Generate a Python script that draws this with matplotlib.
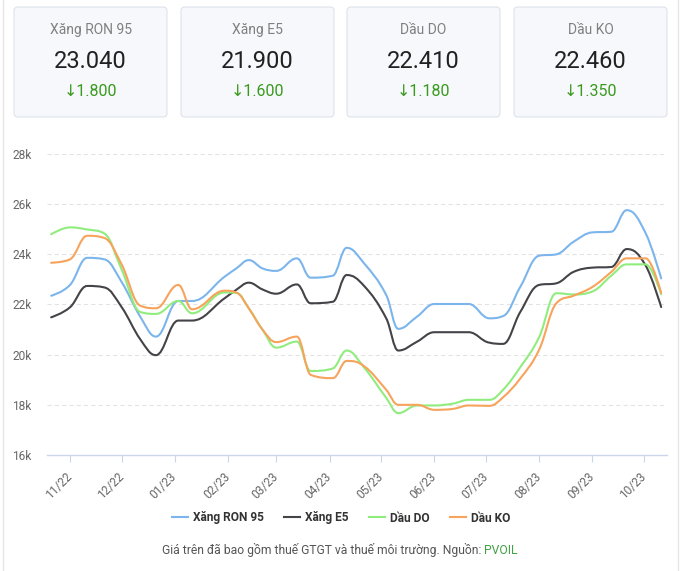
import numpy as np
import pandas as pd
import matplotlib
matplotlib.use('Agg')
import matplotlib.pyplot as plt
import matplotlib.dates as mdates
from matplotlib.path import Path
from matplotlib.patches import PathPatch, FancyBboxPatch
from matplotlib.lines import Line2D
from matplotlib.ticker import FuncFormatter

plt.rcParams['font.family'] = ['Roboto', 'DejaVu Sans']

# price adjustment dates
dates = ['2022-10-21', '2022-11-01', '2022-11-11', '2022-11-21', '2022-12-01', '2022-12-12',
         '2022-12-21', '2023-01-03', '2023-01-11', '2023-01-30', '2023-02-06', '2023-02-13',
         '2023-02-21', '2023-03-01', '2023-03-13', '2023-03-21', '2023-04-03', '2023-04-11',
         '2023-04-21', '2023-05-04', '2023-05-11', '2023-05-22', '2023-06-01', '2023-06-12',
         '2023-06-21', '2023-07-03', '2023-07-11', '2023-07-21', '2023-08-01', '2023-08-11',
         '2023-08-21', '2023-09-01', '2023-09-12', '2023-09-21', '2023-10-02', '2023-10-11']

ron95 = [22350, 22780, 23860, 23800, 22900, 21500, 20720, 22140, 22140, 23110, 23450, 23770,
         23440, 23340, 23840, 23070, 23150, 24260, 23650, 22380, 21030, 21520, 22020, 22020,
         22020, 21450, 21540, 22700, 23945, 24000, 24500, 24875, 24900, 25760, 24840, 23040]
e5 = [21490, 21890, 22740, 22680, 21900, 20600, 19980, 21360, 21360, 22250, 22600, 22870,
      22600, 22430, 22800, 22050, 22110, 23175, 22750, 21450, 20165, 20520, 20895, 20895,
      20895, 20480, 20430, 21700, 22780, 22845, 23300, 23470, 23495, 24210, 23550, 21900]
dau_do = [24800, 25075, 24990, 24830, 23400, 21700, 21625, 22140, 21650, 22480, 22460, 21850,
          21000, 20280, 20520, 19350, 19450, 20165, 19500, 18280, 17670, 17975, 17975, 18050,
          18200, 18200, 18600, 19500, 20700, 22450, 22400, 22520, 23150, 23600, 23600, 22410]
dau_ko = [23665, 23800, 24740, 24650, 23600, 21950, 21850, 22780, 21810, 22550, 22470, 21850,
          21000, 20500, 20720, 19195, 19065, 19750, 19550, 18600, 18000, 18000, 17800, 17840,
          17975, 17960, 18300, 19050, 20200, 22050, 22350, 22700, 23300, 23840, 23840, 22460]

names = ['Xăng RON 95', 'Xăng E5', 'Dầu DO', 'Dầu KO']
colors = ['#7cb5ec', '#434348', '#90ed7d', '#f7a35c']

card_prices = ['23.040', '21.900', '22.410', '22.460']
card_changes = ['1.800', '1.600', '1.180', '1.350']

month_ticks = pd.date_range('2022-11-01', '2023-10-01', freq='MS')


def spline_path(xs, ys, smoothing=1.5):
    # highcharts style spline through the data points
    n = len(xs)
    denom = smoothing + 1
    left = list(zip(xs, ys))
    right = list(zip(xs, ys))
    for i in range(1, n - 1):
        px, py = xs[i], ys[i]
        lx, ly = xs[i - 1], ys[i - 1]
        nx, ny = xs[i + 1], ys[i + 1]
        lcx = (smoothing * px + lx) / denom
        lcy = (smoothing * py + ly) / denom
        rcx = (smoothing * px + nx) / denom
        rcy = (smoothing * py + ny) / denom
        if rcx != lcx:
            corr = (rcy - lcy) * (rcx - px) / (rcx - lcx) + py - rcy
            lcy += corr
            rcy += corr
        if lcy > ly and lcy > py:
            lcy = max(ly, py); rcy = 2 * py - lcy
        elif lcy < ly and lcy < py:
            lcy = min(ly, py); rcy = 2 * py - lcy
        if rcy > ny and rcy > py:
            rcy = max(ny, py); lcy = 2 * py - rcy
        elif rcy < ny and rcy < py:
            rcy = min(ny, py); lcy = 2 * py - rcy
        left[i] = (lcx, lcy)
        right[i] = (rcx, rcy)
    verts = [(xs[0], ys[0])]
    codes = [Path.MOVETO]
    for i in range(1, n):
        verts += [right[i - 1], left[i], (xs[i], ys[i])]
        codes += [Path.CURVE4] * 3
    return Path(verts, codes)


fig = plt.figure(figsize=(6.86, 5.71), dpi=100)

# background layer in pixel units
bg = fig.add_axes([0, 0, 1, 1])
bg.set_xlim(0, 686)
bg.set_ylim(571, 0)
bg.axis('off')
bg.plot([2.5, 2.5], [0, 571], color='#e6e6e6', lw=1)
bg.plot([678, 678], [0, 571], color='#e6e6e6', lw=1)

card_left = [14, 181, 347, 514]
card_w = 153
for i in range(4):
    x0 = card_left[i]
    bg.add_patch(FancyBboxPatch((x0, 7), card_w, 110, boxstyle='round,pad=0,rounding_size=4',
                                fc='#f6f8fb', ec='#dde3ea', lw=0.8))
    cx = x0 + card_w / 2
    bg.text(cx, 30, names[i], ha='center', va='center', fontsize=10, color='#808080')
    bg.text(cx, 62, card_prices[i], ha='center', va='center', fontsize=17, color='#212121')
    bg.text(cx, 91, '↓' + card_changes[i], ha='center', va='center', fontsize=11.5,
            color='#3a9a1e')

bg.text(481, 550, 'Giá trên đã bao gồm thuế GTGT và thuế môi trường. Nguồn:', ha='right',
        va='center', fontsize=8.7, color='#555555')
bg.text(484, 550, 'PVOIL', ha='left', va='center', fontsize=8.7, color='#43a047')

# main chart
ax = fig.add_axes([47 / 686, 1 - 455 / 571, 620 / 686, 301 / 571])
ax.patch.set_alpha(0)

x = mdates.date2num(pd.to_datetime(dates))
for vals, c in zip([ron95, e5, dau_do, dau_ko], colors):
    ax.add_patch(PathPatch(spline_path(list(x), list(vals)), fill=False, ec=c, lw=1.5,
                           capstyle='round', joinstyle='round'))

start = pd.Timestamp('2022-11-01')
ax.set_xlim(mdates.date2num(start - pd.Timedelta(days=13.4)),
            mdates.date2num(start + pd.Timedelta(days=347.4)))
ax.set_ylim(16000, 28000)
ax.set_yticks(np.arange(16000, 28001, 2000))
ax.yaxis.set_major_formatter(FuncFormatter(lambda v, p: '%dk' % (v / 1000)))
ax.set_xticks(mdates.date2num(month_ticks))
ax.set_xticklabels(month_ticks.strftime('%m/%y'))
plt.setp(ax.get_xticklabels(), rotation=45, ha='right', va='center', rotation_mode='anchor')

ax.grid(axis='y', color='#e2e2e2', lw=0.75, linestyle=(0, (4, 3)))
ax.set_axisbelow(True)
for s in ['left', 'right', 'top']:
    ax.spines[s].set_visible(False)
ax.spines['bottom'].set_color('#ccd6eb')
ax.spines['bottom'].set_linewidth(1)
ax.tick_params(axis='y', length=0, pad=11, labelsize=8.6, labelcolor='#666666')
ax.tick_params(axis='x', length=5, width=0.8, color='#ccd6eb', pad=9, labelsize=8.6,
               labelcolor='#666666')

handles = [Line2D([], [], color=c, lw=1.5) for c in colors]
leg = fig.legend(handles, names, loc='center', bbox_to_anchor=(341 / 686, 1 - 518 / 571),
                 ncol=4, frameon=False, handlelength=1.35, handletextpad=0.4,
                 columnspacing=1.7, prop={'weight': 'bold', 'size': 8.6})
for t in leg.get_texts():
    t.set_color('#333333')

plt.savefig('out.png', dpi=100)
